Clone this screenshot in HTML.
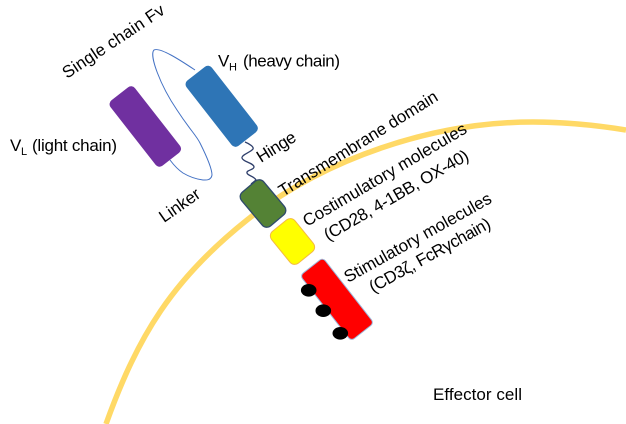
<!DOCTYPE html>
<html><head><meta charset="utf-8"><style>
html,body{margin:0;padding:0;background:#fff;width:626px;height:424px;overflow:hidden}
svg{display:block;overflow:hidden}
text{font-family:"Liberation Sans",sans-serif;font-size:17px;fill:#000}
</style></head><body>
<svg width="626" height="424" viewBox="0 0 626 424" xmlns="http://www.w3.org/2000/svg">
<path d="M106 424C138 335 173 279 247 220C325 158 433 122 533 122C565 122 595 125 626 130" fill="none" stroke="#FFD966" stroke-width="5.5"/>
<path d="M195 70C180 60 160 47 154 50C149 55 160 85 177 110C190 130 196 135 200 143C206 155 212 168 212 175C211 181 205 180 203 180C195 179 188 176 183 173C177 169 173 164 170 160" fill="none" stroke="#4472C4" stroke-width="1"/>
<path d="M245 142C250 144 254 147 253 149C251 152 241 155 242 158C243 162 254 163 254 167C254 170 246 170 247 173C248 176 254 176 256 180L251 184" fill="none" stroke="#2F3F6B" stroke-width="1.3"/>
<rect x="-41.5" y="-15.5" width="83" height="31" rx="5" fill="#7030A0" transform="translate(145.3 126.5) rotate(52)"/>
<rect x="-41.5" y="-16" width="83" height="32" rx="5" fill="#2E75B6" transform="translate(221.7 106.3) rotate(52)"/>
<rect x="-22" y="-14.5" width="44" height="29" rx="6" fill="#548235" stroke="#2F4A6B" stroke-width="1.3" transform="translate(263 203.5) rotate(50)"/>
<rect x="-20.5" y="-15" width="41" height="30" rx="6" fill="#FFFF00" stroke="#F4B942" stroke-width="1" transform="translate(292.5 241.5) rotate(51)"/>
<rect x="-41.5" y="-14.5" width="83" height="29" rx="4" fill="#FF0000" stroke="#9DB7DA" stroke-width="1" transform="translate(337 299.3) rotate(52)"/>
<ellipse cx="308.7" cy="290.3" rx="7.8" ry="6.3" fill="#000"/>
<ellipse cx="323.3" cy="310.7" rx="7.8" ry="6.3" fill="#000"/>
<ellipse cx="340.3" cy="333.3" rx="7.8" ry="6.3" fill="#000"/>
<text transform="translate(67 79) rotate(-33.7)" textLength="119" lengthAdjust="spacing">Single chain Fv</text>
<text x="218" y="66.5">V</text><text x="229" y="70.5" style="font-size:11px">H</text>
<text x="243" y="66.5" textLength="97" lengthAdjust="spacing">(heavy chain)</text>
<text x="10" y="151">V</text><text x="21" y="155" style="font-size:11px">L</text>
<text x="32" y="151" textLength="85" lengthAdjust="spacing">(light chain)</text>
<text transform="translate(164 223) rotate(-35)" textLength="46" lengthAdjust="spacing">Linker</text>
<text transform="translate(261 163) rotate(-32)" textLength="43" lengthAdjust="spacing">Hinge</text>
<text transform="translate(283 197) rotate(-31.9)" textLength="184" lengthAdjust="spacing">Transmembrane domain</text>
<text transform="translate(307 227) rotate(-30.5)" textLength="187" lengthAdjust="spacing">Costimulatory molecules</text>
<text transform="translate(328 241) rotate(-30)" textLength="164" lengthAdjust="spacing">(CD28, 4-1BB, OX-40)</text>
<text transform="translate(348 283) rotate(-29.2)" textLength="166" lengthAdjust="spacing">Stimulatory molecules</text>
<text transform="translate(373 293) rotate(-29)" textLength="136" lengthAdjust="spacing">(CD3ζ, FcRγchain)</text>
<text x="433" y="400" textLength="89" lengthAdjust="spacing">Effector cell</text>
</svg>
</body></html>
